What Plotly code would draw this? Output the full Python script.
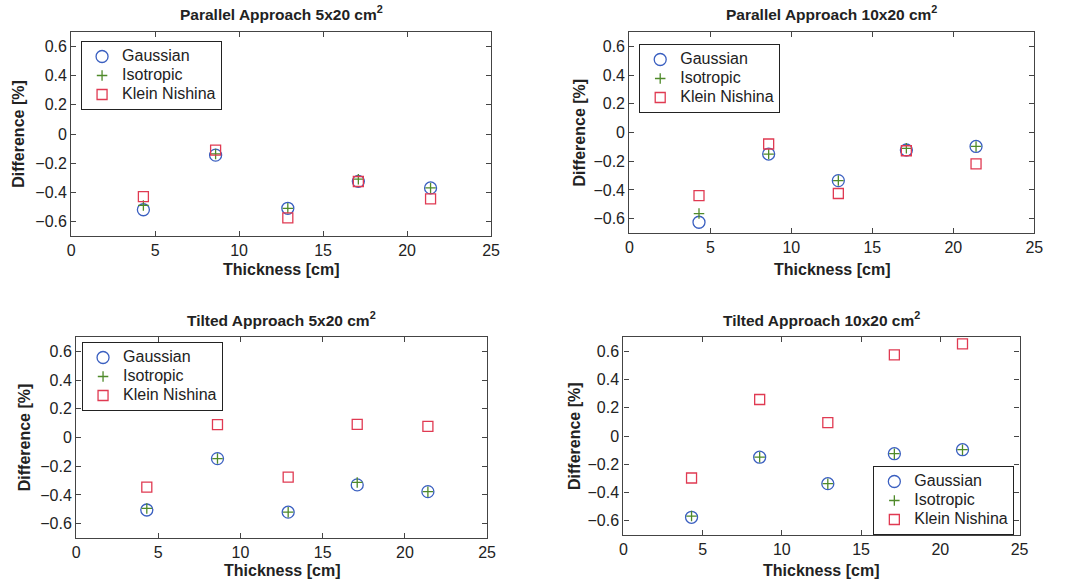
import plotly.graph_objects as go

# ---------------- data ----------------
thickness = [4.3, 8.6, 12.9, 17.1, 21.4]

titles = ["Parallel Approach 5x20 cm<sup>2</sup>",
          "Parallel Approach 10x20 cm<sup>2</sup>",
          "Tilted Approach 5x20 cm<sup>2</sup>",
          "Tilted Approach 10x20 cm<sup>2</sup>"]

series_names = ["Gaussian", "Isotropic", "Klein Nishina"]

# Parallel 5x20
p5_gauss = [-0.52, -0.145, -0.51, -0.325, -0.37]
p5_iso = [-0.49, -0.137, -0.51, -0.31, -0.37]
p5_kn = [-0.43, -0.11, -0.575, -0.326, -0.445]
# Parallel 10x20
p10_gauss = [-0.625, -0.15, -0.335, -0.122, -0.097]
p10_iso = [-0.565, -0.15, -0.335, -0.11, -0.097]
p10_kn = [-0.44, -0.08, -0.425, -0.127, -0.218]
# Tilted 5x20
t5_gauss = [-0.505, -0.147, -0.52, -0.33, -0.377]
t5_iso = [-0.494, -0.147, -0.52, -0.313, -0.377]
t5_kn = [-0.345, 0.089, -0.276, 0.091, 0.077]
# Tilted 10x20
t10_gauss = [-0.575, -0.15, -0.337, -0.125, -0.097]
t10_iso = [-0.566, -0.15, -0.337, -0.125, -0.097]
t10_kn = [-0.297, 0.258, 0.095, 0.574, 0.652]

panels = [(p5_gauss, p5_iso, p5_kn),
          (p10_gauss, p10_iso, p10_kn),
          (t5_gauss, t5_iso, t5_kn),
          (t10_gauss, t10_iso, t10_kn)]

x_ticks = [0, 5, 10, 15, 20, 25]
y_ticks = [-0.6, -0.4, -0.2, 0, 0.2, 0.4, 0.6]

# ---------------- layout geometry (pixels) ----------------
W, H = 1073, 586
boxes = [(68, 493, 32, 236), (633, 1043, 32, 233),
         (73, 489, 337, 538), (627, 1028, 337, 535)]
ylab_x = [15, 583, 21, 577]
xlab_y = [269, 269, 570, 570]
title_y = [13, 13, 319, 319]
legend_pos = [dict(x=78 / W, y=1 - 41 / H, xanchor="left", yanchor="top"),
              dict(x=643 / W, y=1 - 44 / H, xanchor="left", yanchor="top"),
              dict(x=79 / W, y=1 - 342 / H, xanchor="left", yanchor="top"),
              dict(x=880 / W, y=1 - 466 / H, xanchor="left", yanchor="top")]

FONT = "Liberation Sans, Arial, Helvetica, sans-serif"
colors = ["#3a5fc0", "#4f8a2a", "#e03a52"]
symbols = ["circle-open", "cross-thin-open", "square-open"]
sizes = [12, 7.5, 10]

fig = go.Figure()
layout = dict(width=W, height=H, margin=dict(l=0, r=0, t=0, b=0),
              paper_bgcolor="white", plot_bgcolor="white",
              font=dict(family=FONT, size=16, color="#222"))
annotations = []

for i, (box, data) in enumerate(zip(boxes, panels)):
    l, r, t, b = box
    n = "" if i == 0 else str(i + 1)
    leg = "legend" + n
    for j in range(3):
        fig.add_trace(go.Scatter(
            x=thickness, y=data[j], mode="markers",
            name='<span style="font-size:16px">' + series_names[j] + "</span>",
            xaxis="x" + n, yaxis="y" + n, legend=leg,
            marker=dict(symbol=symbols[j], size=sizes[j], color=colors[j],
                        line=dict(width=1.3, color=colors[j])),
        ))
    axis_common = dict(showline=True, linecolor="#444", linewidth=1.2, mirror="ticks",
                       ticks="inside", ticklen=5, tickcolor="#444", showgrid=False,
                       zeroline=False, tickfont=dict(size=16, color="#222"))
    layout["xaxis" + n] = dict(domain=[l / W, r / W], range=[0, 25],
                               tickvals=x_ticks, anchor="y" + n, **axis_common)
    layout["yaxis" + n] = dict(domain=[1 - b / H, 1 - t / H], range=[-0.7, 0.7],
                               tickvals=y_ticks, anchor="x" + n, **axis_common)
    layout[leg] = dict(**legend_pos[i], bgcolor="white", bordercolor="#222",
                       borderwidth=1, font=dict(size=12, color="#222"),
                       tracegroupgap=0)
    cx = (l + r) / 2 / W
    annotations.append(dict(text="<b>" + titles[i] + "</b>", x=cx, y=1 - title_y[i] / H,
                            xref="paper", yref="paper", showarrow=False,
                            xanchor="center", yanchor="middle",
                            font=dict(size=15.5, color="#222")))
    annotations.append(dict(text="<b>Thickness [cm]</b>", x=cx, y=1 - xlab_y[i] / H,
                            xref="paper", yref="paper", showarrow=False,
                            xanchor="center", yanchor="middle",
                            font=dict(size=16, color="#222")))
    annotations.append(dict(text="<b>Difference [%]</b>", x=ylab_x[i] / W,
                            y=1 - (t + b) / 2 / H, xref="paper", yref="paper",
                            showarrow=False, textangle=-90,
                            xanchor="center", yanchor="middle",
                            font=dict(size=16, color="#222")))

layout["annotations"] = annotations
fig.update_layout(**layout)
fig.write_html("out.html")
